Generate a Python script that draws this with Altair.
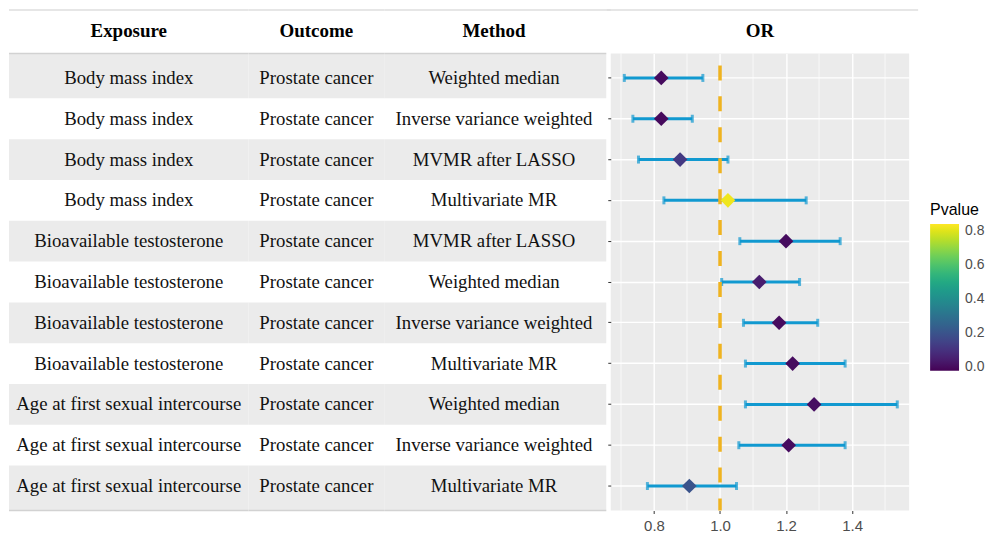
import altair as alt
import pandas as pd

# ---- data ----
exposure = ["Body mass index"] * 4 + ["Bioavailable testosterone"] * 4 + ["Age at first sexual intercourse"] * 3
outcome = ["Prostate cancer"] * 11
method = ["Weighted median", "Inverse variance weighted", "MVMR after LASSO", "Multivariate MR",
          "MVMR after LASSO", "Weighted median", "Inverse variance weighted", "Multivariate MR",
          "Weighted median", "Inverse variance weighted", "Multivariate MR"]
odds_ratio = [0.822, 0.822, 0.879, 1.024, 1.200, 1.119, 1.179, 1.220, 1.285, 1.208, 0.907]
ci_lower = [0.710, 0.736, 0.753, 0.830, 1.060, 1.005, 1.071, 1.077, 1.077, 1.057, 0.780]
ci_upper = [0.948, 0.916, 1.024, 1.261, 1.364, 1.241, 1.296, 1.379, 1.537, 1.379, 1.050]
pvalue = [0.001, 0.0005, 0.12, 0.82, 0.002, 0.045, 0.001, 0.002, 0.01, 0.004, 0.2]
headers = ["Exposure", "Outcome", "Method", "OR"]
x_ticks = [0.8, 1.0, 1.2, 1.4]
x_minor = [0.7, 0.9, 1.1, 1.3, 1.5]
null_value = [1.0]
legend_ticks = [0.0, 0.2, 0.4, 0.6, 0.8]

N = len(method)
df = pd.DataFrame({
    "row": list(range(1, N + 1)),
    "exposure": exposure, "outcome": outcome, "method": method,
    "or": odds_ratio, "lower": ci_lower, "upper": ci_upper, "pval": pvalue,
})

PLOT_H = 458
SERIF = "Liberation Serif"
SANS = "Liberation Sans"
BAR = "#1199d0"
one = pd.DataFrame({"k": [0]})

# ordinal band scale for the forest panel (ggplot-like 0.6 expansion)
yscale = alt.Scale(paddingInner=0, paddingOuter=0.1)
# the same rows on a linear scale for the table, so the end stripes can reach the edges
tscale = alt.Scale(domain=[0.4, N + 0.6], reverse=True, nice=False, zero=False)


def header(text, center, x0, x1):
    top = alt.Chart(one).mark_rule(color="#dedede", strokeWidth=1.5).encode(
        x=alt.value(x0), x2=alt.value(x1), y=alt.value(-43.5))
    head = alt.Chart(pd.DataFrame({"h": [text]})).mark_text(
        font=SERIF, fontSize=19, fontWeight="bold", color="black",
        align="center", baseline="middle").encode(
        x=alt.value(center), y=alt.value(-22), text="h:N")
    return [top, head]


def table_col(field, head, width, fill_w, center):
    stripes = alt.Chart(df).transform_filter("datum.row % 2 == 1").transform_calculate(
        lo=f"datum.row == 1 ? 0.4 : datum.row - 0.5",
        hi=f"datum.row == {N} ? {N + 0.6} : datum.row + 0.5",
    ).mark_rect(color="#ebebeb").encode(
        y=alt.Y("lo:Q", scale=tscale, axis=None), y2="hi:Q",
        x=alt.value(0), x2=alt.value(fill_w))
    text = alt.Chart(df).mark_text(font=SERIF, fontSize=18.8, color="#111111",
                                   align="center", baseline="middle").encode(
        y=alt.Y("row:Q", scale=tscale, axis=None), x=alt.value(center), text=f"{field}:N")
    hline = alt.Chart(one).mark_rule(color="#d2d2d2", strokeWidth=1.5).encode(
        x=alt.value(0), x2=alt.value(fill_w), y=alt.value(0))
    bline = alt.Chart(one).mark_rule(color="#d2d2d2", strokeWidth=1.5).encode(
        x=alt.value(0), x2=alt.value(fill_w), y=alt.value(PLOT_H))
    return alt.layer(stripes, hline, bline, text, *header(head, center, 0, width)).properties(
        width=width, height=PLOT_H)


c1 = table_col("exposure", headers[0], 240, fill_w=240, center=120)
c2 = table_col("outcome", headers[1], 136, fill_w=136, center=68)
c3 = table_col("method", headers[2], 227, fill_w=222.5, center=110)

xscale = alt.Scale(domain=[0.669, 1.573], nice=False, zero=False)
xaxis = alt.Axis(values=x_ticks, format=".1f", title=None, domain=False, grid=True,
                 gridColor="white", gridWidth=1.4, ticks=True, tickSize=3, tickColor="#333333",
                 tickWidth=1, labelFont=SANS, labelFontSize=15, labelColor="#4d4d4d",
                 labelPadding=5)
Y = alt.Y("row:O", scale=yscale,
          axis=alt.Axis(labels=False, title=None, domain=False, ticks=True, tickSize=3,
                        tickColor="#333333", grid=True, gridColor="white", gridWidth=1.4,
                        bandPosition=0.5))

minor = alt.Chart(pd.DataFrame({"v": x_minor})).mark_rule(color="white", strokeWidth=0.7).encode(
    x=alt.X("v:Q", scale=xscale, axis=xaxis))
bars = alt.Chart(df).mark_rule(color=BAR, strokeWidth=3).encode(
    x=alt.X("lower:Q", scale=xscale, title=None), x2="upper:Q", y=Y)
cap_lo = alt.Chart(df).mark_tick(color=BAR, thickness=3, size=8, orient="vertical").encode(
    x=alt.X("lower:Q", scale=xscale, title=None), y=Y)
cap_hi = alt.Chart(df).mark_tick(color=BAR, thickness=3, size=8, orient="vertical").encode(
    x=alt.X("upper:Q", scale=xscale, title=None), y=Y)
vline = alt.Chart(pd.DataFrame({"v": null_value})).mark_rule(
    color="#efb320", strokeWidth=3.5, strokeDash=[15, 16], strokeDashOffset=19).encode(
    x=alt.X("v:Q", scale=xscale, title=None))
points = alt.Chart(df).mark_point(shape="diamond", filled=True, size=216, opacity=1).encode(
    x=alt.X("or:Q", scale=xscale, title=None), y=Y,
    color=alt.Color("pval:Q", scale=alt.Scale(scheme="viridis", domain=[-0.02, 0.84]),
                    legend=alt.Legend(title="Pvalue", orient="none", legendX=923, legendY=149,
                                      direction="vertical", gradientLength=147,
                                      gradientThickness=29, values=legend_ticks, format=".1f",
                                      labelFont=SANS, labelFontSize=14, labelColor="#4d4d4d",
                                      labelOffset=6, titleFont=SANS, titleFontSize=16,
                                      titleFontWeight="normal", titleColor="black",
                                      titlePadding=6, gradientStrokeWidth=0)))

forest = alt.layer(minor, bars, cap_lo, cap_hi, vline, points,
                   *header(headers[3], 149.5, -4, 308)).properties(
    width=299, height=PLOT_H,
    view=alt.ViewBackground(fill="#ebebeb", stroke=None))

chart = alt.hconcat(c1, c2, c3, forest, spacing=0, bounds="flush").properties(
    padding=0, background="white").configure_view(stroke=None)

chart.save("out.html", embed_options={"renderer": "svg", "actions": False})
